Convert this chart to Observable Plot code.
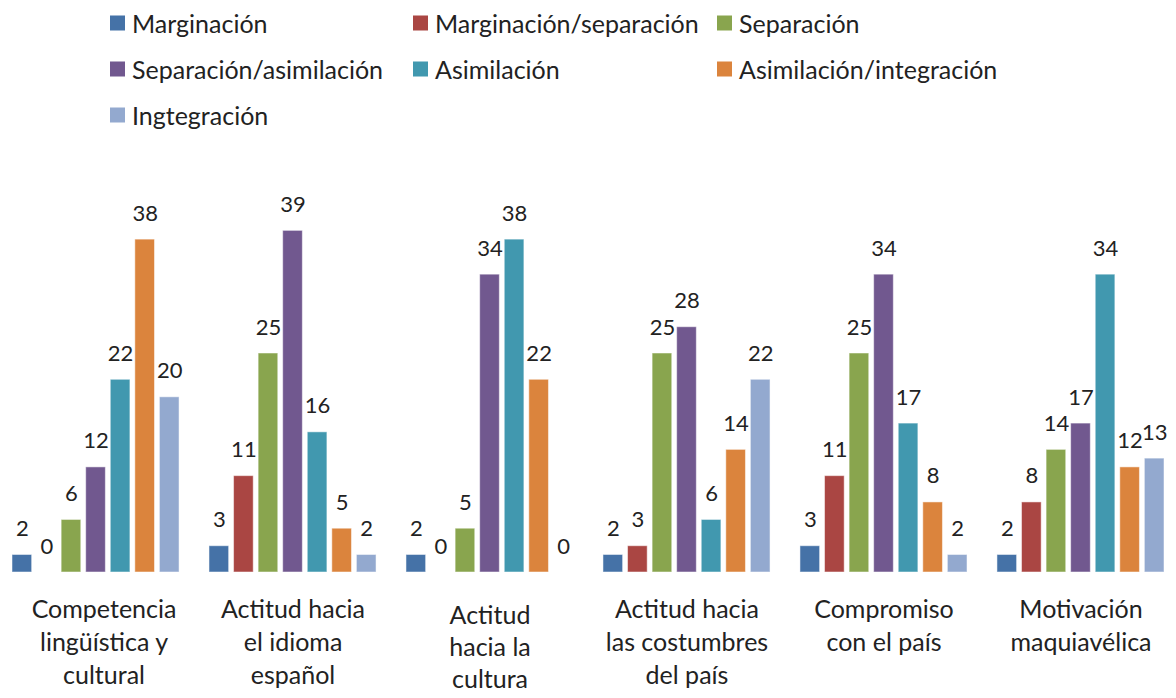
<!DOCTYPE html>
<html><head><meta charset="utf-8">
<script src="https://cdn.jsdelivr.net/npm/d3@7"></script>
<script src="https://cdn.jsdelivr.net/npm/@observablehq/plot@0.6"></script>
<style>
body{margin:0;background:#fff;font-family:Lato,sans-serif;color:#222}
#legend{position:relative;height:140px;width:1176px}
.item{position:absolute;display:flex;align-items:center;font-size:25px;white-space:nowrap;line-height:1;transform:translateY(-50%)}
.sw{width:15px;height:15px;margin-right:7px;flex:none}
</style></head><body>
<div id="legend"></div><div id="chart"></div>
<script>
const categories = ["Competencia lingüística y cultural","Actitud hacia el idioma español","Actitud hacia la cultura","Actitud hacia las costumbres del país","Compromiso con el país","Motivación maquiavélica"];
const tickLabels = ["Competencia\nlingüística y\ncultural","Actitud hacia\nel idioma\nespañol","Actitud\nhacia la\ncultura","Actitud hacia\nlas costumbres\ndel país","Compromiso\ncon el país","Motivación\nmaquiavélica"];
const series = ["Marginación","Marginación/separación","Separación","Separación/asimilación","Asimilación","Asimilación/integración","Ingtegración"];
const colors = ["#4572a7","#aa4643","#89a54e","#71588f","#4198af","#db843d","#93a9cf"];
const marginacion = [2,3,2,2,3,2];
const marginacionSeparacion = [0,11,0,3,11,8];
const separacion = [6,25,5,25,25,14];
const separacionAsimilacion = [12,39,34,28,34,17];
const asimilacion = [22,16,38,6,17,34];
const asimilacionIntegracion = [38,5,22,14,8,12];
const integracion = [20,2,0,22,2,13];
const seriesValues = [marginacion,marginacionSeparacion,separacion,separacionAsimilacion,asimilacion,asimilacionIntegracion,integracion];

const data = [];
categories.forEach((g,gi)=>series.forEach((s,si)=>data.push({group:g,series:s,value:seriesValues[si][gi]})));
const labels = categories.map((g,i)=>({group:g,label:tickLabels[i]}));

// legend
const legend = document.getElementById("legend");
const colX = [110,413,717], rowY = [22.5,68.5,114.5];
series.forEach((s,i)=>{
  const el = document.createElement("div");
  el.className="item";
  el.style.left = colX[i%3]+"px";
  el.style.top = rowY[Math.floor(i/3)]+"px";
  el.innerHTML = `<span class="sw" style="background:${colors[i]}"></span><span>${s}</span>`;
  legend.appendChild(el);
});

const firstLabel = categories[0];
const oddLabel = categories[2];
const labelOpts = {fx:"group", frameAnchor:"bottom", lineAnchor:"top", lineHeight:1.32, text:"label", fontSize:25, fill:"#222"};
const chart = Plot.plot({
  width:1176, height:558,
  marginLeft:12, marginRight:12, marginTop:81.6, marginBottom:126,
  fx:{domain:categories, paddingInner:0.152, paddingOuter:0, round:false, axis:null, label:null},
  x:{domain:series, paddingInner:0.2, paddingOuter:0, round:false, axis:null},
  y:{domain:[0,40], axis:null},
  color:{domain:series, range:colors},
  style:{fontFamily:"Lato, sans-serif", fontSize:"21px", color:"#222", background:"#fff"},
  marks:[
    Plot.barY(data,{fx:"group", x:"series", y:"value", fill:"series", stroke:"#fff", strokeOpacity:0.5, strokeWidth:1}),
    Plot.text(data,{fx:"group", x:"series", y:"value", text:d=>String(d.value), lineAnchor:"bottom", dy:-19, fontSize:22, fill:"#222"}),
    Plot.text(labels.filter(d=>d.group===firstLabel),{...labelOpts, dy:22.5, dx:8}),
    Plot.text(labels.filter(d=>d.group!==oddLabel && d.group!==firstLabel),{...labelOpts, dy:22.5}),
    Plot.text(labels.filter(d=>d.group===oddLabel),{...labelOpts, dy:29, lineHeight:1.28})
  ]
});
document.getElementById("chart").appendChild(chart);
</script>
</body></html>
